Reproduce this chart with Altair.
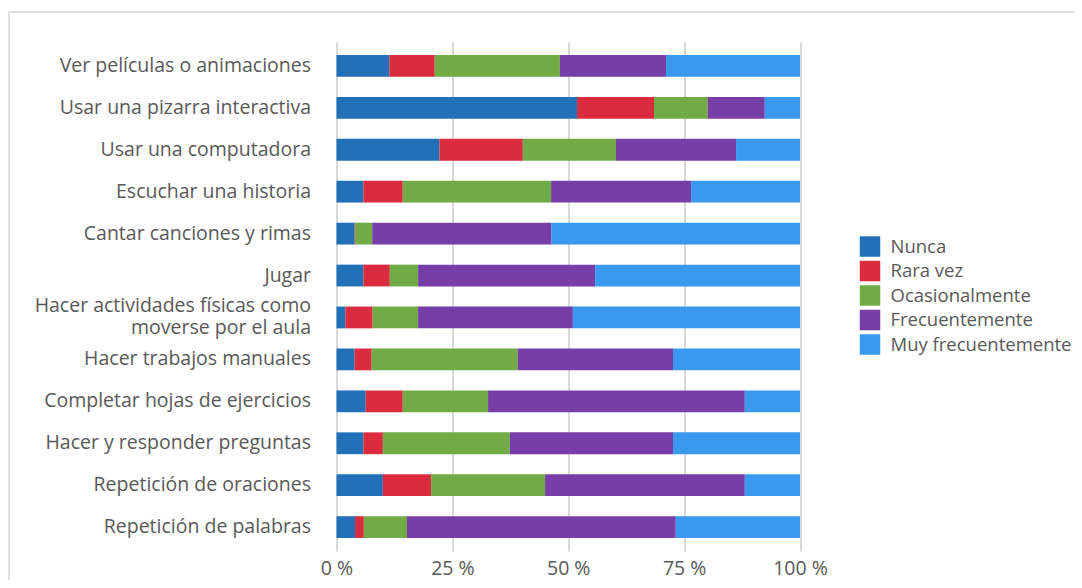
import altair as alt
import pandas as pd

categories = [
    "Ver películas o animaciones",
    "Usar una pizarra interactiva",
    "Usar una computadora",
    "Escuchar una historia",
    "Cantar canciones y rimas",
    "Jugar",
    "Hacer actividades físicas como\nmoverse por el aula",
    "Hacer trabajos manuales",
    "Completar hojas de ejercicios",
    "Hacer y responder preguntas",
    "Repetición de oraciones",
    "Repetición de palabras",
]
series = ["Nunca", "Rara vez", "Ocasionalmente", "Frecuentemente", "Muy frecuentemente"]
colors = ["#2170b8", "#da2b3f", "#71ab46", "#773ea7", "#3b99ed"]

nunca = [11.4, 51.9, 22.2, 5.8, 3.9, 5.8, 1.9, 3.9, 6.3, 5.8, 10.0, 4.0]
rara = [9.8, 16.6, 18.0, 8.5, 0.1, 5.7, 5.9, 3.7, 8.0, 4.2, 10.4, 1.9]
ocas = [27.0, 11.6, 20.1, 32.0, 3.7, 6.1, 9.8, 31.5, 18.4, 27.4, 24.6, 9.3]
frec = [22.9, 12.3, 25.9, 30.2, 38.7, 38.2, 33.4, 33.5, 55.4, 35.2, 43.1, 58.0]
muy = [28.9, 7.6, 13.8, 23.5, 53.6, 44.2, 49.0, 27.4, 11.9, 27.4, 11.9, 26.8]
x_ticks = [0, 25, 50, 75, 100]

rows = []
for si, (name, vals) in enumerate(zip(series, [nunca, rara, ocas, frec, muy])):
    for cat, v in zip(categories, vals):
        rows.append({"cat": cat, "serie": name, "valor": v, "orden": si})
df = pd.DataFrame(rows)

FONT = "Open Sans"
GRAY = "#595959"
FS = 19.5

bars = alt.Chart(df).mark_bar().encode(
    y=alt.Y(
        "cat:N",
        sort=categories,
        title=None,
        scale=alt.Scale(paddingInner=0.48, paddingOuter=0.31),
        axis=alt.Axis(
            ticks=False, domain=False, grid=False, labelFontSize=FS,
            labelColor=GRAY, labelFont=FONT, labelPadding=26, labelLimit=400,
            labelExpr="split(datum.label, '\\n')", labelLineHeight=22,
            labelOffset={"condition": {"test": "indexof(datum.value, '\\n') >= 0", "value": -11}, "value": 0},
        ),
    ),
    x=alt.X(
        "valor:Q",
        stack="zero",
        title=None,
        scale=alt.Scale(domain=[0, 100], nice=False),
        axis=alt.Axis(
            values=x_ticks, labelExpr="datum.value + ' %'", ticks=False, domain=False,
            grid=True, gridColor="#d9d9d9", gridWidth=2, labelFontSize=FS,
            labelColor=GRAY, labelFont=FONT, labelPadding=8, labelFlush=False,
        ),
    ),
    color=alt.Color(
        "serie:N",
        sort=series,
        scale=alt.Scale(domain=series, range=colors),
        legend=alt.Legend(
            title=None, orient="none", legendX=523, legendY=194,
            symbolType="square", symbolSize=420, symbolStrokeWidth=0,
            labelFontSize=18.5, labelColor=GRAY, labelFont=FONT, labelLimit=400,
            labelOffset=10, rowPadding=3.5,
        ),
    ),
    order=alt.Order("orden:Q"),
)

frame = alt.Chart(pd.DataFrame({"a": [0]})).mark_rect(
    fill=None, stroke="#e0e0e0", strokeWidth=2
).encode(
    x=alt.value(-327.5), x2=alt.value(900), y=alt.value(-30), y2=alt.value(700)
)

chart = alt.layer(frame, bars).properties(
    width=463.5,
    height=509,
    autosize=alt.AutoSizeParams(type="none"),
    padding={"left": 328.5, "top": 34, "right": 274, "bottom": 29},
).configure_view(stroke=None)

chart.save("out.html", embed_options={"renderer": "svg", "actions": False})
